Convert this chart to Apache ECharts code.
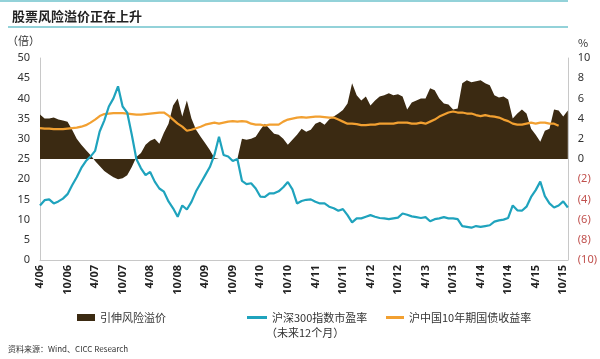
<!DOCTYPE html>
<html><head><meta charset="utf-8">
<script src="https://cdn.jsdelivr.net/npm/echarts@6/dist/echarts.min.js"></script>
<style>html,body{margin:0;padding:0;background:#fff}#c{width:600px;height:359px}</style>
</head><body><div id="c"></div>
<script>
// Monthly categories from 4/06 to 11/15
const startYear = 2006, startMonth = 4, monthCount = 116;
const categories = [];
for (let i = 0; i < monthCount; i++) {
  const t = startMonth - 1 + i;
  const y = startYear + Math.floor(t / 12);
  const m = t % 12 + 1;
  categories.push(m + '/' + String(y % 100).padStart(2, '0'));
}

// 引伸风险溢价 (%), right axis
const premium = [
  4.4, 4.0, 4.0, 4.1, 3.9, 3.8, 3.7, 2.9, 2.0, 1.4,
  0.9, 0.4, -0.2, -0.7, -1.2, -1.5, -1.8, -2.0, -1.9, -1.6,
  -0.8, 0.2, 0.6, 1.4, 1.8, 2.0, 1.5, 2.6, 3.5, 5.3,
  6.0, 4.2, 5.8, 4.0, 2.9, 2.2, 1.55, 0.9, 0.1, 0,
  0, 0, 0, 0, 2.0, 1.9, 2.0, 2.2, 2.9, 3.5,
  3.0, 2.5, 2.4, 2.0, 1.4, 1.9, 2.4, 3.0, 2.7, 2.9,
  3.5, 3.7, 3.4, 3.9, 4.2, 4.5, 4.85, 5.5, 7.5, 6.3,
  5.8, 6.2, 5.3, 5.8, 6.2, 6.3, 6.5, 6.3, 6.4, 6.2,
  4.9, 5.6, 5.8, 6.0, 6.0, 7.0, 6.8, 6.0, 5.5, 5.4,
  4.9, 5.0, 7.5, 7.8, 7.6, 7.7, 7.8, 7.5, 7.3, 6.3,
  6.1, 6.2, 5.9, 4.0, 4.5, 4.9, 4.5, 3.0, 2.4, 1.7,
  2.8, 3.0, 4.9, 4.8, 4.2, 4.8
];

// 沪深300指数市盈率 (倍), left axis
const pe = [
  13.5, 14.8, 15.0, 14.0, 14.5, 15.2, 16.3, 18.5, 20.5, 22.8,
  24.5, 25.6, 27.0, 31.8, 34.5, 38.0, 40.0, 43.0, 38.0, 36.5,
  31.0, 25.0, 22.7, 21.0, 21.8, 19.4, 17.7, 16.9, 14.5, 12.8,
  10.7, 13.5, 12.5, 14.4, 17.0, 19.0, 21.0, 23.0, 26.0, 30.5,
  26.0, 25.6, 24.5, 25.0, 19.6, 18.8, 19.0, 17.7, 15.7, 15.6,
  16.5, 16.5, 17.0, 18.0, 19.3, 17.5, 14.0, 14.6, 14.9, 15.0,
  14.4, 14.0, 14.0, 13.2, 12.8, 12.2, 12.6, 11.1, 9.3, 10.3,
  10.3, 10.7, 11.1, 10.7, 10.4, 10.3, 10.1, 10.3, 10.5, 11.5,
  11.2, 10.8, 10.6, 10.4, 10.6, 9.6, 10.1, 10.3, 10.6, 10.3,
  10.3, 10.1, 8.4, 8.2, 8.0, 8.4, 8.2, 8.4, 8.6, 9.5,
  9.8, 10.0, 10.4, 13.5, 12.3, 12.2, 13.2, 15.6, 17.3, 19.4,
  15.8, 14.0, 13.0, 13.5, 14.5, 13.0
];

// 沪中国10年期国债收益率 (%), right axis
const bondYield = [
  3.05, 3.0, 3.0, 2.95, 2.95, 2.95, 3.0, 3.05, 3.1, 3.2,
  3.35, 3.6, 3.9, 4.25, 4.45, 4.5, 4.55, 4.55, 4.55, 4.5,
  4.45, 4.4, 4.4, 4.45, 4.5, 4.55, 4.6, 4.6, 4.3, 3.9,
  3.5, 3.2, 2.8, 2.9, 3.05, 3.2, 3.4, 3.5, 3.6, 3.5,
  3.6, 3.7, 3.75, 3.7, 3.75, 3.7, 3.5, 3.4, 3.4, 3.3,
  3.4, 3.4, 3.4, 3.7, 3.9, 4.0, 4.1, 4.15, 4.1, 4.15,
  4.2, 4.2, 4.15, 4.1, 4.1, 3.9, 3.7, 3.5, 3.5, 3.45,
  3.35, 3.35, 3.4, 3.4, 3.5, 3.5, 3.5, 3.5, 3.6, 3.6,
  3.6, 3.5, 3.5, 3.6, 3.5, 3.7, 3.9, 4.2, 4.4, 4.6,
  4.7, 4.6, 4.6, 4.5, 4.5, 4.35, 4.25, 4.35, 4.25, 4.2,
  4.1, 3.9, 3.75, 3.5, 3.4, 3.4, 3.5, 3.6, 3.5, 3.6,
  3.6, 3.5, 3.5, 3.3, null, null
];

const leftTicks = { min: 0, max: 50, interval: 5 };
const rightTicks = { min: -10, max: 10, interval: 2 };

const C_AREA = '#3b2a12', C_PE = '#1fa3bd', C_YLD = '#f2a031', C_RULE = '#6fc3cd';
const FONT = '"Noto Sans CJK SC", "Noto Sans", sans-serif';

const chart = echarts.init(document.getElementById('c'), null, { renderer: 'canvas' });
chart.setOption({
  animation: false,
  textStyle: { fontFamily: FONT },
  title: {
    text: '股票风险溢价正在上升', left: 7, top: 5,
    textStyle: { fontSize: 13, fontWeight: 'bold', color: '#222', fontFamily: FONT }
  },
  graphic: [
    { type: 'line', shape: { x1: 0, y1: 1, x2: 568, y2: 1 }, style: { stroke: C_RULE, lineWidth: 1.5 } },
    { type: 'line', shape: { x1: 8, y1: 27, x2: 568, y2: 27 }, style: { stroke: C_RULE, lineWidth: 1.5 } },
    { type: 'text', left: 7, top: 35, style: { text: '（倍）', fontSize: 11, fill: '#333', fontFamily: FONT } },
    { type: 'text', left: 578, top: 37, style: { text: '%', fontSize: 11, fill: '#333', fontFamily: FONT } },
    { type: 'text', left: 266, top: 327, style: { text: '（未来12个月）', fontSize: 11, fill: '#333', fontFamily: FONT } },
    { type: 'text', left: 8, top: 345, style: { text: '资料来源：Wind、CICC Research', fontSize: 8, fill: '#333', fontFamily: FONT } }
  ],
  legend: [
    { data: ['引伸风险溢价'], left: 72, top: 307, icon: 'rect', itemWidth: 18, itemHeight: 7, itemGap: 4,
      textStyle: { fontSize: 11, color: '#333' } },
    { data: ['沪深300指数市盈率'], left: 242, top: 307, icon: 'rect', itemWidth: 20, itemHeight: 3,
      textStyle: { fontSize: 11, color: '#333' } },
    { data: ['沪中国10年期国债收益率'], left: 381, top: 307, icon: 'rect', itemWidth: 18, itemHeight: 3,
      textStyle: { fontSize: 11, color: '#333' } }
  ],
  grid: { left: 40, right: 32, top: 58, bottom: 99, containLabel: false },
  xAxis: {
    type: 'category', data: categories, boundaryGap: false,
    axisLine: { onZero: false, lineStyle: { color: '#c8c8c8', width: 1 } },
    axisTick: { show: false },
    splitLine: { show: false },
    axisLabel: {
      interval: function (idx) { return idx % 6 === 0; },
      rotate: 90, margin: 5, fontSize: 11, color: '#222', fontWeight: 'bold',
      fontFamily: '"Noto Sans", sans-serif'
    }
  },
  yAxis: [
    {
      type: 'value', min: leftTicks.min, max: leftTicks.max, interval: leftTicks.interval,
      axisLine: { show: true, lineStyle: { color: '#c8c8c8' } },
      axisTick: { show: false }, splitLine: { show: false },
      axisLabel: { fontSize: 11, color: '#333', margin: 10, fontFamily: '"Noto Sans", sans-serif' }
    },
    {
      type: 'value', min: rightTicks.min, max: rightTicks.max, interval: rightTicks.interval,
      position: 'right',
      axisLine: { show: true, lineStyle: { color: '#c8c8c8' } },
      axisTick: { show: false }, splitLine: { show: false },
      axisLabel: {
        fontSize: 11, margin: 10, fontFamily: '"Noto Sans", sans-serif',
        formatter: function (v) { return v < 0 ? '(' + (-v) + ')' : String(v); },
        color: function (v) { return Number(v) < 0 ? '#c0504d' : '#333'; }
      }
    }
  ],
  series: [
    {
      name: '引伸风险溢价', type: 'line', yAxisIndex: 1, data: premium,
      showSymbol: false, symbol: 'none', color: C_AREA,
      lineStyle: { width: 0, color: C_AREA },
      areaStyle: { color: C_AREA, opacity: 1, origin: 'auto' },
      z: 1
    },
    {
      name: '沪中国10年期国债收益率', type: 'line', yAxisIndex: 1, data: bondYield,
      showSymbol: false, symbol: 'none', color: C_YLD,
      lineStyle: { width: 2.2, color: C_YLD }, z: 2
    },
    {
      name: '沪深300指数市盈率', type: 'line', yAxisIndex: 0, data: pe,
      showSymbol: false, symbol: 'none', color: C_PE,
      lineStyle: { width: 2.2, color: C_PE }, z: 3
    }
  ]
});
</script></body></html>
